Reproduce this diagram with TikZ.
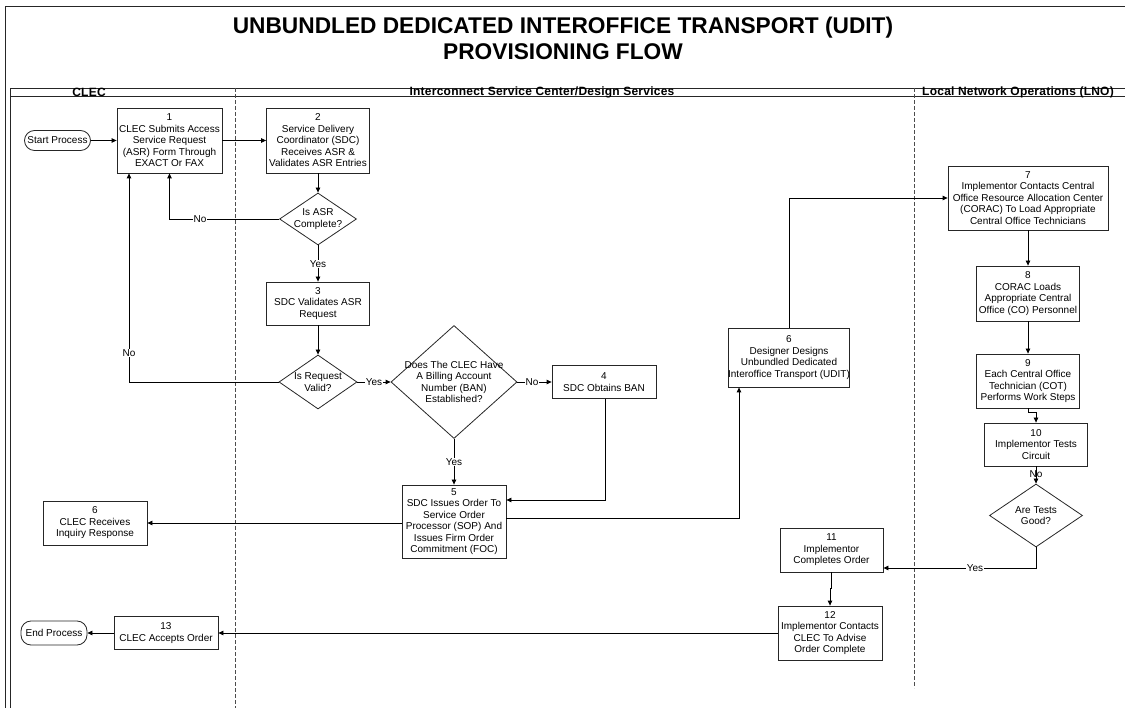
\documentclass[tikz,border=0pt]{standalone}
\usepackage{fontspec}
\setmainfont{Liberation Sans}
\newfontfamily\headfont[LetterSpace=2]{Liberation Sans}
\usetikzlibrary{arrows.meta,shapes.geometric}
\begin{document}
\begin{tikzpicture}[x=1pt,y=-1pt,
  every node/.style={font=\fontsize{10}{11.5}\selectfont},
  box/.style={draw=black!85, line width=0.8pt, align=center, inner sep=0pt, fill=white},
  dia/.style={draw=black!85, line width=0.8pt, diamond, inner sep=0pt},
  dtext/.style={align=center, inner sep=0pt},
  term/.style={draw=black!85, line width=0.8pt, rounded corners=10pt, inner sep=1pt, minimum width=66pt},
  flow/.style={line width=0.8pt, -{Triangle[length=5pt,width=4.5pt]}},
  lbl/.style={fill=white, inner sep=1pt},
  lane/.style={dash pattern=on 4pt off 2pt, line width=0.7pt, black!70},
  frame/.style={line width=0.8pt, black!85},
  lanehead/.style={font=\headfont\bfseries\fontsize{12}{13}\selectfont},
  titletext/.style={font=\bfseries\fontsize{22.7}{26}\selectfont}
]
\useasboundingbox (0,0) rectangle (1125,708);

% outer frame and lane header band
\draw[frame] (5,708) -- (5,6) -- (1125,6);
\draw[frame] (10,708) -- (10,88) -- (1125,88);
\draw[frame] (10,96) -- (1125,96);

% swim-lane dividers
\draw[lane] (235,88) -- (235,708);
\draw[lane] (914,88) -- (914,688);

% title
\node[titletext] (title1) at (563,28) {UNBUNDLED DEDICATED INTEROFFICE TRANSPORT (UDIT)};
\node[titletext] (title2) at (563,52) {PROVISIONING FLOW};

% lane names
\node[lanehead] (laneA) at (89,92) {CLEC};
\node[lanehead] (laneB) at (542,92) {Interconnect Service Center/Design Services};
\node[lanehead] (laneC) at (1018,92) {Local Network Operations (LNO)};

% terminals
\node[term, minimum height=20pt] (start) at (57.5,140.5) {Start Process};
\node[term, minimum height=24pt] (end) at (54,633) {End Process};

% process steps
\node[box, minimum width=105pt, minimum height=65pt] (b1) at (169.5,140.5)
  {1\\CLEC Submits Access\\Service Request\\(ASR) Form Through\\EXACT Or FAX};
\node[box, minimum width=103pt, minimum height=65pt] (b2) at (318,140.5)
  {2\\Service Delivery\\Coordinator (SDC)\\Receives ASR \&\\Validates ASR Entries};
\node[box, minimum width=103pt, minimum height=43pt] (b3) at (318,303.5)
  {3\\SDC Validates ASR\\Request};
\node[box, minimum width=104pt, minimum height=33pt] (b4) at (604,382)
  {4\\SDC Obtains BAN};
\node[box, minimum width=104pt, minimum height=73pt] (b5) at (454,521.5)
  {5\\SDC Issues Order To\\Service Order\\Processor (SOP) And\\Issues Firm Order\\Commitment (FOC)};
\node[box, minimum width=104pt, minimum height=44pt] (b6c) at (95,523)
  {6\\CLEC Receives\\Inquiry Response};
\node[box, minimum width=106pt, minimum height=59pt] (b6d) at (789,357.5)
  {6\\Designer Designs\\Unbundled Dedicated\\Interoffice Transport (UDIT)};
\node[box, minimum width=160pt, minimum height=64pt] (b7) at (1028,198)
  {7\\Implementor Contacts Central\\Office Resource Allocation Center\\(CORAC) To Load Appropriate\\Central Office Technicians};
\node[box, minimum width=103pt, minimum height=55pt] (b8) at (1028,293.5)
  {8\\CORAC Loads\\Appropriate Central\\Office (CO) Personnel};
\node[box, minimum width=103pt, minimum height=54pt] (b9) at (1028,381)
  {9\\Each Central Office\\Technician (COT)\\Performs Work Steps};
\node[box, minimum width=103pt, minimum height=43pt] (b10) at (1036,444.5)
  {10\\Implementor Tests\\Circuit};
\node[box, minimum width=103pt, minimum height=44pt] (b11) at (831.5,550)
  {11\\Implementor\\Completes Order};
\node[box, minimum width=104pt, minimum height=54pt] (b12) at (830,633)
  {12\\Implementor Contacts\\CLEC To Advise\\Order Complete};
\node[box, minimum width=104pt, minimum height=33pt] (b13) at (166,633)
  {13\\CLEC Accepts Order};

% decisions
\node[dia, minimum width=77pt, minimum height=52pt] (d1) at (318,219) {};
\node[dtext] (d1t) at (d1) {Is ASR\\Complete?};
\node[dia, minimum width=78pt, minimum height=54pt] (d2) at (318,382) {};
\node[dtext] (d2t) at (d2) {Is Request\\Valid?};
\node[dia, minimum width=126pt, minimum height=113pt] (d3) at (454,382) {};
\node[dtext] (d3t) at (d3) {Does The CLEC Have\\A Billing Account\\Number (BAN)\\Established?};
\node[dia, minimum width=93pt, minimum height=63pt] (d4) at (1036,515.5) {};
\node[dtext] (d4t) at (d4) {Are Tests\\Good?};

% bend points
\coordinate (nx) at (129,0);
\coordinate (j45) at (605,500);
\coordinate (j56) at (739,518);
\coordinate (j11) at (1036,568);

% connectors
\draw[flow] (start.east) -- (start.east -| b1.west);
\draw[flow] (b1.east) -- (b2.west);
\draw[flow] (b2.south) -- (d1.north);
\draw[flow] (d1.west) -| (b1.south);
\draw[flow] (d1.south) -- (b3.north);
\draw[flow] (b3.south) -- (d2.north);
\draw[flow] (d2.west) -| (nx |- b1.south);
\draw[flow] (d2.east) -- (d3.west);
\draw[flow] (d3.east) -- (b4.west);
\draw[flow] (d3.south) -- (b5.north);
\draw[flow] (b4.south -| j45) |- (j45 -| b5.east);
\draw[flow] (b5.west |- b6c.east) -- (b6c.east);
\draw[flow] (b5.east |- j56) -| (j56 |- b6d.south);
\draw[flow] (b6d.north) |- (b7.west);
\draw[flow] (b7.south) -- (b8.north);
\draw[flow] (b8.south) -- (b9.north);
\draw[flow] (b9.south) -- ++(0,4) -| (b10.north);
\draw[flow] (b10.south) -- (d4.north);
\draw[flow] (d4.south) |- (b11.east |- j11);
\draw[flow] (b11.south) -- ++(0,16) -| (b12.north);
\draw[flow] (b12.west) -- (b12.west -| b13.east);
\draw[flow] (b13.west) -- (end.east);

% connector labels
\node[lbl] (l1) at (200,219) {No};
\node[lbl] (l2) at (318,264) {Yes};
\node[lbl] (l3) at (129,353) {No};
\node[lbl] (l4) at (374,382) {Yes};
\node[lbl] (l5) at (532,382) {No};
\node[lbl] (l6) at (454,462) {Yes};
\node[inner sep=0pt] (l7) at (1036,474) {No};
\node[lbl] (l8) at (975,568) {Yes};
\end{tikzpicture}
\end{document}
